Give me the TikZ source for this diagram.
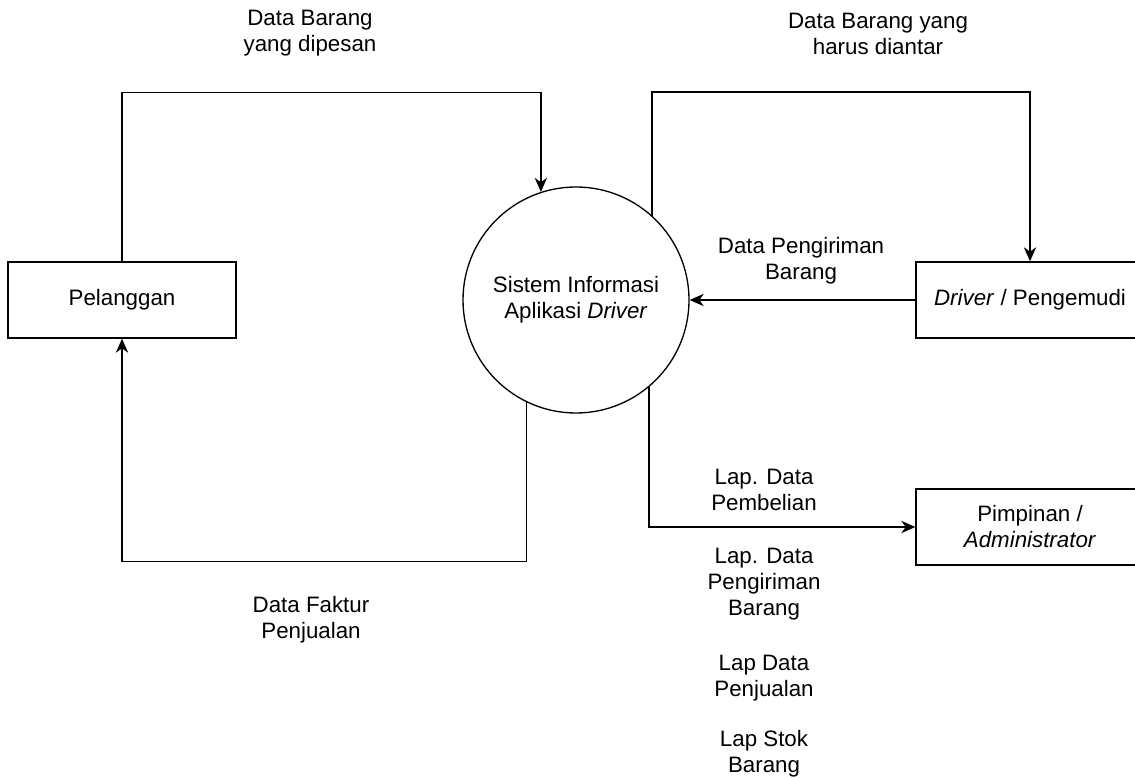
\documentclass[tikz,border=0pt]{standalone}
\usepackage{fontspec}
\setmainfont{Liberation Sans}
\usetikzlibrary{arrows.meta}
\begin{document}
\begin{tikzpicture}[line width=.75pt,
		font=\fontsize{12.7}{14.8}\selectfont,
		entity/.style={draw,minimum width=4.56cm,minimum height=1.52cm,align=center},
		proc/.style={draw,circle,minimum size=4.52cm,inner sep=0pt,align=center},
		flow/.style={-{Stealth[length=8pt,width=7pt,inset=2.5pt]}},
		lbl/.style={align=center}]
	\path[use as bounding box,clip] (0,0) rectangle (22.7,15.56);
	% entitas dan proses
	\node[entity] (pel) at (2.44,9.56) {Pelanggan};
	\node[proc] (sys) at (11.52,9.56) {Sistem Informasi\\Aplikasi \textit{Driver}};
	\node[entity] (drv) at (20.6,9.56) {\textit{Driver} / Pengemudi};
	\node[entity] (pim) at (20.6,5.02) {Pimpinan /\\\textit{Administrator}};
	% aliran data
	\draw[flow] (pel.north) -- ++(0,3.38) -| (sys.108.6);
	\draw[flow] (sys.48.4) -- ++(0,2.47) -| (drv.north);
	\draw[flow] (drv.west) -- (sys.east);
	\draw[flow] (sys.244.9) -- ++(0,-3.19) -| (pel.south);
	\draw[flow] (sys.310.9) |- (pim.west);
	% label
	\node[lbl] (l1) at (6.2,14.89) {Data Barang\\yang dipesan};
	\node[lbl] (l2) at (17.56,14.89) {Data Barang yang\\harus diantar};
	\node[lbl] (l3) at (16.02,10.34) {Data Pengiriman\\Barang};
	\node[lbl] (l4) at (6.22,3.16) {Data Faktur\\Penjualan};
	\node[lbl] (l5) at (15.28,5.76) {Lap. Data\\Pembelian};
	\node[lbl] (l6) at (15.28,3.88) {Lap. Data\\Pengiriman\\Barang};
	\node[lbl] (l7) at (15.28,2.0) {Lap Data\\Penjualan};
	\node[lbl] (l8) at (15.28,0.48) {Lap Stok\\Barang};
\end{tikzpicture}
\end{document}
